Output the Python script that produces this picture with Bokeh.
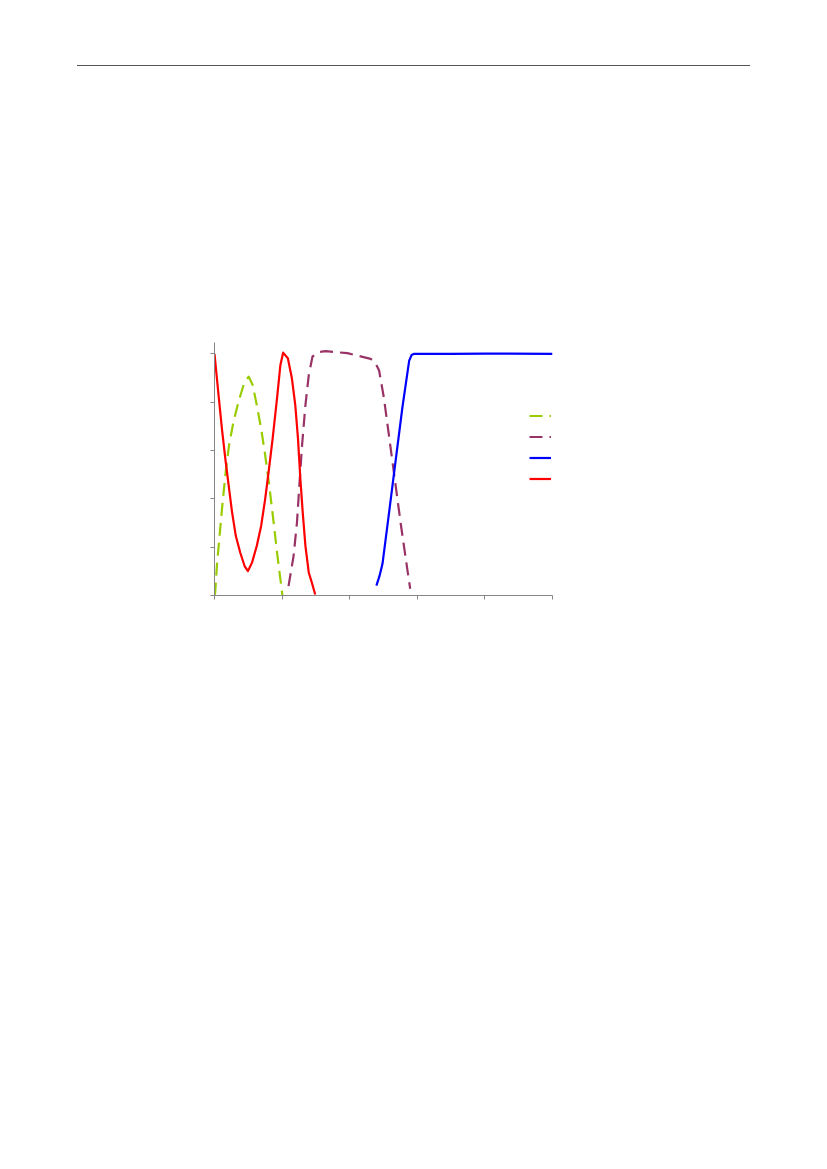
from bokeh.plotting import figure
from bokeh.models import Range1d, FixedTicker, Legend, LegendItem, Div
from bokeh.layouts import column
from bokeh.embed import file_html
from bokeh.resources import INLINE

# ---- data (x normalised 0..1, y fraction 0..1) ----
green_x = [0.0, 0.002, 0.007, 0.015, 0.024, 0.033, 0.043, 0.056, 0.071, 0.086, 0.101,
           0.113, 0.125, 0.138, 0.150, 0.162, 0.175, 0.185, 0.195, 0.201]
green_y = [0.0, 0.011, 0.122, 0.247, 0.386, 0.510, 0.621, 0.718, 0.802, 0.871, 0.906,
           0.871, 0.788, 0.691, 0.580, 0.455, 0.302, 0.178, 0.067, 0.0]

purple_x = [0.219, 0.234, 0.244, 0.251, 0.259, 0.269, 0.279, 0.290, 0.308, 0.329,
            0.393, 0.462, 0.475, 0.487, 0.501, 0.526, 0.551, 0.571, 0.579]
purple_y = [0.039, 0.164, 0.302, 0.455, 0.621, 0.788, 0.913, 0.989, 1.007, 1.011,
            1.003, 0.979, 0.965, 0.931, 0.820, 0.559, 0.297, 0.103, 0.028]

blue_x = [0.479, 0.488, 0.497, 0.516, 0.536, 0.556, 0.576, 0.583, 0.591, 0.700, 0.800, 1.0]
blue_y = [0.041, 0.080, 0.131, 0.338, 0.559, 0.779, 0.972, 0.995, 1.000, 1.000, 1.001, 1.000]

red_x = [0.0, 0.012, 0.022, 0.032, 0.042, 0.052, 0.063, 0.076, 0.089, 0.099, 0.111,
         0.125, 0.138, 0.150, 0.160, 0.172, 0.185, 0.195, 0.203, 0.217, 0.229, 0.239,
         0.247, 0.254, 0.261, 0.269, 0.279, 0.288, 0.298]
red_y = [1.0, 0.829, 0.690, 0.566, 0.455, 0.344, 0.247, 0.178, 0.122, 0.101, 0.136,
         0.205, 0.288, 0.400, 0.510, 0.649, 0.816, 0.954, 1.005, 0.982, 0.899, 0.788,
         0.649, 0.483, 0.344, 0.205, 0.094, 0.053, 0.004]

x_ticks = [0.0, 0.2, 0.4, 0.6, 0.8, 1.0]
y_ticks = [0.0, 0.2, 0.4, 0.6, 0.8, 1.0]
legend_labels = [" ", " ", " ", " "]

GREEN = "#99CC00"
PURPLE = "#993366"
BLUE = "#0000FF"
RED = "#FF0000"

header = Div(text="", width=673, height=1, margin=(65, 0, 0, 77),
             styles={"border-top": "1px solid #555555"})

p = figure(frame_width=338, frame_height=253,
           min_border_left=214, min_border_top=276, min_border_right=30, min_border_bottom=30,
           x_range=Range1d(0, 1.0), y_range=Range1d(0, 1.047),
           output_backend="svg", toolbar_location=None)
p.outline_line_color = None
p.xgrid.visible = False
p.ygrid.visible = False
p.background_fill_color = None
p.border_fill_color = None

for ax, ticks in ((p.xaxis[0], x_ticks), (p.yaxis[0], y_ticks)):
    ax.ticker = FixedTicker(ticks=ticks)
    ax.axis_line_color = "#868686"
    ax.major_tick_line_color = "#868686"
    ax.major_tick_out = 4
    ax.major_tick_in = 0
    ax.minor_tick_line_color = None
    ax.major_label_text_font_size = "0px"
    ax.major_label_text_color = None
    ax.major_label_standoff = 0

rg = p.line(green_x, green_y, line_color=GREEN, line_width=2.2, line_dash="13 7", line_join="round")
rp = p.line(purple_x, purple_y, line_color=PURPLE, line_width=2.2, line_dash="13 7", line_join="round")
rb = p.line(blue_x, blue_y, line_color=BLUE, line_width=2.2, line_join="round")
rr = p.line(red_x, red_y, line_color=RED, line_width=2.2, line_join="round")

legend = Legend(items=[LegendItem(label=lab, renderers=[r])
                       for lab, r in zip(legend_labels, [rg, rp, rb, rr])],
                location=(315, 106), glyph_width=22, glyph_height=21, label_height=21,
                label_width=0, label_standoff=0, spacing=0, padding=0, margin=0,
                label_text_font_size="1px", border_line_color=None,
                background_fill_alpha=0)
p.add_layout(legend)

layout = column(header, p)
open("out.html", "w").write(file_html(layout, INLINE))
